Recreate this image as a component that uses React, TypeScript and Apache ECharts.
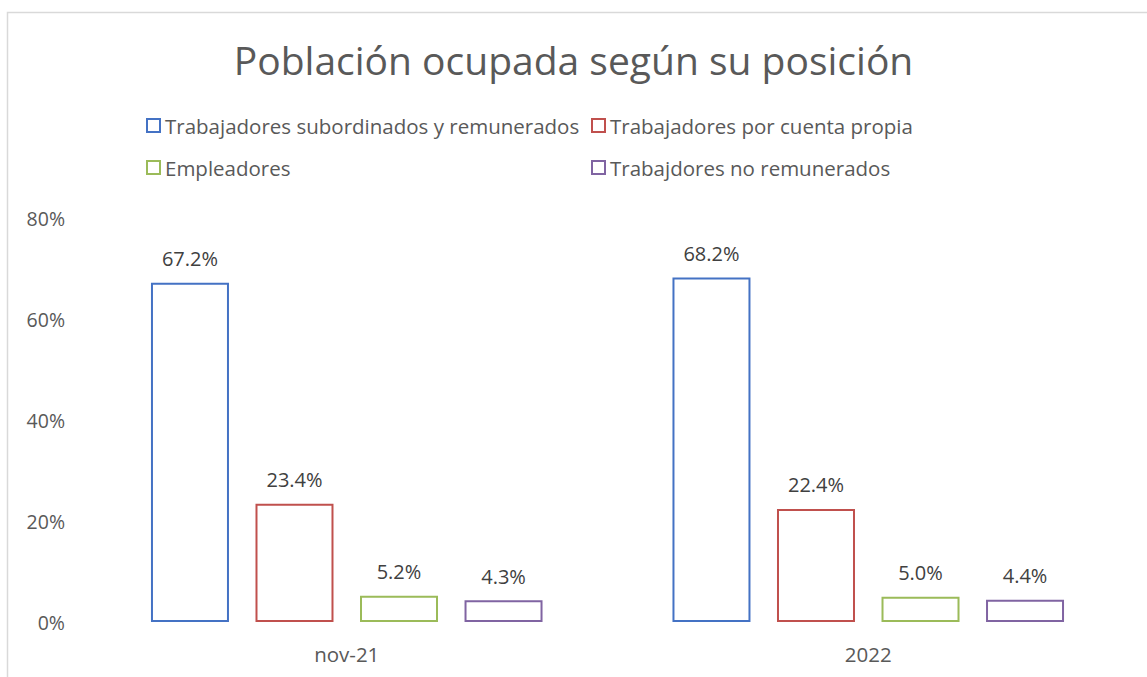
import React, { useEffect, useRef } from "react";
import * as echarts from "echarts";

const categories = ["nov-21", "2022"];
const seriesNames = [
  "Trabajadores subordinados y remunerados",
  "Trabajadores por cuenta propia",
  "Empleadores",
  "Trabajdores no remunerados",
];
const subordinados = [67.2, 68.2];
const cuentaPropia = [23.4, 22.4];
const empleadores = [5.2, 5.0];
const noRemunerados = [4.3, 4.4];
const colors = ["#4472c4", "#c0504d", "#9bbb59", "#8064a2"];
const yTicks = [0, 20, 40, 60, 80];

const FONT = "'Open Sans', 'Noto Sans', sans-serif";

export default function App() {
  const ref = useRef<HTMLDivElement>(null);
  useEffect(() => {
    if (!ref.current) return;
    const chart = echarts.init(ref.current, null, { renderer: "svg" });
    const values = [subordinados, cuentaPropia, empleadores, noRemunerados];
    const legendPos = [
      { left: 146, top: 115 },
      { left: 591, top: 115 },
      { left: 146, top: 157 },
      { left: 591, top: 157 },
    ];
    chart.setOption({
      animation: false,
      backgroundColor: "#ffffff",
      textStyle: { fontFamily: FONT },
      graphic: [
        {
          type: "rect",
          shape: { x: 7.5, y: 12.5, width: 1200, height: 700 },
          style: { fill: "none", stroke: "#d9d9d9", lineWidth: 1.5 },
          silent: true,
        },
      ],
      title: {
        text: "Población ocupada según su posición",
        left: "center",
        top: 35,
        textStyle: { fontFamily: FONT, fontSize: 39, fontWeight: "normal", color: "#595959" },
      },
      legend: seriesNames.map((name, i) => ({
        data: [name],
        left: legendPos[i].left,
        top: legendPos[i].top,
        icon: "rect",
        itemWidth: 13,
        itemHeight: 13,
        itemGap: 5,
        padding: 0,
        textStyle: { fontFamily: FONT, fontSize: 20.5, color: "#595959", padding: [0, 0, 0, 0] },
      })),
      grid: { left: 86, right: 18, top: 218, bottom: 55 },
      xAxis: {
        type: "category",
        data: categories,
        axisLine: { show: false },
        axisTick: { show: false },
        axisLabel: { fontFamily: FONT, fontSize: 20.5, color: "#595959", margin: 21 },
      },
      yAxis: {
        type: "value",
        min: yTicks[0],
        max: yTicks[yTicks.length - 1],
        interval: 20,
        axisLine: { show: false },
        axisTick: { show: false },
        splitLine: { show: false },
        axisLabel: { fontFamily: FONT, fontSize: 19.5, color: "#595959", margin: 21, formatter: "{value}%" },
      },
      series: seriesNames.map((name, i) => ({
        name,
        type: "bar",
        data: values[i],
        barWidth: 78,
        barGap: "34%",
        itemStyle: { color: "#ffffff", borderColor: colors[i], borderWidth: 2 },
        label: {
          show: true,
          position: "top",
          distance: 14,
          fontFamily: FONT,
          fontSize: 20,
          color: "#404040",
          formatter: (p: any) => p.value.toFixed(1) + "%",
        },
      })),
    });
    return () => chart.dispose();
  }, []);
  return (
    <div
      ref={ref}
      style={{ position: "absolute", left: 0, top: 0, width: 1147, height: 677 }}
    />
  );
}
